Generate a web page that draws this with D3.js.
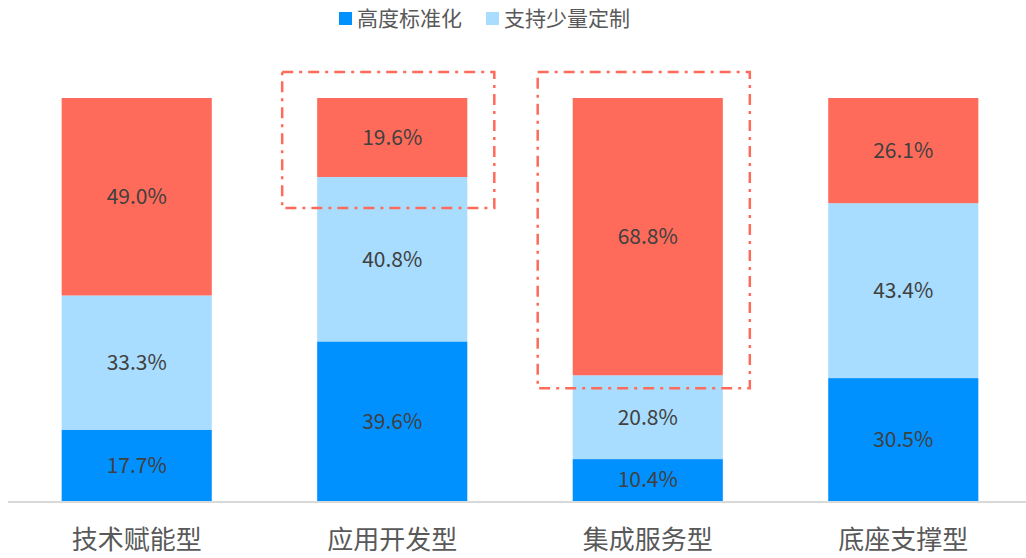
<!DOCTYPE html>
<meta charset="utf-8">
<style>
  body { margin: 0; background: #fff; }
  svg { font-family: "Noto Sans CJK SC", "Noto Sans", sans-serif; }
  .seg text { font-size: 21px; fill: #404040; text-anchor: middle; }
  .cat text { font-size: 26px; fill: #595959; text-anchor: middle; }
  .legend text { font-size: 21px; fill: #595959; }
</style>
<svg width="1026" height="558"></svg>
<script src="https://cdnjs.cloudflare.com/ajax/libs/d3/7.8.5/d3.min.js"></script>
<script>

// data
var categories = ["技术赋能型", "应用开发型", "集成服务型", "底座支撑型"];
var standardized = [17.7, 39.6, 10.4, 30.5];
var customized = [33.3, 40.8, 20.8, 43.4];
var other = [49.0, 19.6, 68.8, 26.1];
var legendNames = ["高度标准化", "支持少量定制"];
// highlighted bars (dash-dot boxes around the top segment)
var highlight = ["应用开发型", "集成服务型"];
var highlightBottomPad = [31, 13];

var colors = ["#0091FF", "#A8DDFF", "#FF6B5A"];

var svg = d3.select("svg"),
    width = +svg.attr("width"),
    height = +svg.attr("height");

var rows = categories.map(function(c, i) {
  return { cat: c, s0: standardized[i], s1: customized[i], s2: other[i] };
});
var stack = d3.stack().keys(["s0", "s1", "s2"]);
var layers = stack(rows);

var x = d3.scaleBand()
    .domain(categories)
    .range([8, 1032])
    .paddingInner(0.4125)
    .paddingOuter(0.21);

var y = d3.scaleLinear()
    .domain([0, 100])
    .range([501, 98]);

// axis line
svg.append("line")
    .attr("x1", 8).attr("x2", width)
    .attr("y1", y(0) + 1).attr("y2", y(0) + 1)
    .attr("stroke", "#d9d9d9")
    .attr("stroke-width", 2);

var layer = svg.selectAll(".layer")
  .data(layers)
  .enter().append("g")
    .attr("class", "seg")
    .attr("fill", function(d, i) { return colors[i]; });

layer.selectAll("rect")
  .data(function(d) { return d; })
  .enter().append("rect")
    .attr("x", function(d) { return x(d.data.cat); })
    .attr("y", function(d) { return y(d[1]); })
    .attr("width", x.bandwidth())
    .attr("height", function(d) { return y(d[0]) - y(d[1]); });

layer.selectAll("text")
  .data(function(d) { return d; })
  .enter().append("text")
    .attr("x", function(d) { return x(d.data.cat) + x.bandwidth() / 2; })
    .attr("y", function(d) { return (y(d[0]) + y(d[1])) / 2; })
    .attr("dy", "0.35em")
    .text(function(d) { return (d[1] - d[0]).toFixed(1) + "%"; });

// category labels
svg.append("g").attr("class", "cat")
  .selectAll("text")
  .data(categories)
  .enter().append("text")
    .attr("x", function(d) { return x(d) + x.bandwidth() / 2; })
    .attr("y", 549)
    .text(function(d) { return d; });

// dash-dot highlight boxes
var topLayer = layers[layers.length - 1];
svg.selectAll(".hl")
  .data(highlight)
  .enter().append("rect")
    .attr("class", "hl")
    .attr("x", function(d) { return x(d) - 35; })
    .attr("y", function(d) { return y(topLayer[categories.indexOf(d)][1]) - 26; })
    .attr("width", x.bandwidth() + 62)
    .attr("height", function(d, i) {
      var s = topLayer[categories.indexOf(d)];
      return y(s[0]) - y(s[1]) + 26 + highlightBottomPad[i];
    })
    .attr("fill", "none")
    .attr("stroke", "#FF6B5A")
    .attr("stroke-width", 2.5)
    .attr("stroke-dasharray", "11,6,3,6");

// legend
var legend = svg.append("g").attr("class", "legend")
  .selectAll("g")
  .data(legendNames)
  .enter().append("g")
    .attr("transform", function(d, i) { return "translate(" + [339, 486][i] + ",12)"; });

legend.append("rect")
    .attr("width", 13).attr("height", 13)
    .attr("fill", function(d, i) { return colors[i]; });

legend.append("text")
    .attr("x", 18)
    .attr("y", 7)
    .attr("dy", "0.35em")
    .text(function(d) { return d; });

</script>
